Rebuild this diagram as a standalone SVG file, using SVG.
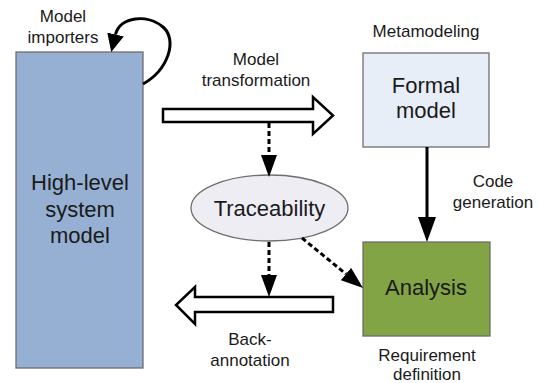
<svg xmlns="http://www.w3.org/2000/svg" width="541" height="383" viewBox="0 0 541 383">
  <defs>
    <style>
      .lbl { font-family: "Liberation Sans", Arial, sans-serif; font-size: 17px; fill: #1a1a1a; text-anchor: middle; }
      .big { font-family: "Liberation Sans", Arial, sans-serif; font-size: 22px; fill: #1a1a1a; text-anchor: middle; }
      .box { stroke: #6e6e6e; stroke-width: 1.3; }
      .block { fill: #ffffff; stroke: #000000; stroke-width: 2.5; stroke-linejoin: miter; }
      .dash { fill: none; stroke: #000000; stroke-width: 3; stroke-dasharray: 5 3; }
      .solid { fill: none; stroke: #000000; stroke-width: 3; }
    </style>
    <marker id="headDash" markerUnits="userSpaceOnUse" markerWidth="22" markerHeight="16" refX="0" refY="8" orient="auto">
      <path d="M0,0 L22,8 L0,16 Z" fill="#000"/>
    </marker>
    <marker id="headSolid" markerUnits="userSpaceOnUse" markerWidth="25" markerHeight="18" refX="0" refY="9" orient="auto">
      <path d="M0,0 L25,9 L0,18 Z" fill="#000"/>
    </marker>
    <marker id="headCurve" markerUnits="userSpaceOnUse" markerWidth="18" markerHeight="17" refX="0" refY="8.5" orient="auto">
      <path d="M0,0 L18,8.5 L0,17 Z" fill="#000"/>
    </marker>
  </defs>

  <rect width="541" height="383" fill="#ffffff"/>

  <!-- nodes -->
  <g id="high-level-model">
    <rect class="box" x="16" y="52" width="127" height="316" fill="#95B0D2"/>
    <text class="big" x="80" y="190">High-level</text>
    <text class="big" x="80" y="217">system</text>
    <text class="big" x="80" y="243">model</text>
  </g>

  <g id="formal-model">
    <rect class="box" x="363" y="53" width="126" height="94" fill="#E7EEF8"/>
    <text class="big" x="426" y="93">Formal</text>
    <text class="big" x="426" y="118">model</text>
  </g>

  <g id="traceability">
    <ellipse class="box" cx="269.5" cy="208" rx="78.5" ry="33" fill="#EEEDF4"/>
    <text class="big" x="269.5" y="216">Traceability</text>
  </g>

  <g id="analysis">
    <rect class="box" x="363" y="242" width="127" height="94" fill="#83A445"/>
    <text class="big" x="426" y="295">Analysis</text>
  </g>

  <!-- connectors -->
  <g id="connectors">
    <path class="solid" d="M143,84 C168,70 178,40 163,27 C148,14 120,16 115.5,34.5" stroke-width="2.5" marker-end="url(#headCurve)"/>
    <path class="block" d="M163,109 L313,109 L313,97 L333,115.5 L313,134 L313,122 L163,122 Z"/>
    <path class="block" d="M333,297 L195,297 L195,287 L176,305 L195,324 L195,312 L333,312 Z"/>
    <line class="dash" x1="269" y1="123" x2="269" y2="155" marker-end="url(#headDash)"/>
    <line class="dash" x1="269" y1="242" x2="269" y2="275" marker-end="url(#headDash)"/>
    <line class="dash" x1="302" y1="238" x2="346" y2="274" marker-end="url(#headDash)"/>
    <line class="solid" x1="427" y1="147" x2="427" y2="217" marker-end="url(#headSolid)"/>
  </g>

  <!-- free labels -->
  <g id="labels">
    <text class="lbl" x="63" y="22">Model</text>
    <text class="lbl" x="63" y="43">importers</text>
    <text class="lbl" x="256" y="65">Model</text>
    <text class="lbl" x="256" y="86">transformation</text>
    <text class="lbl" x="426" y="37">Metamodeling</text>
    <text class="lbl" x="493" y="187">Code</text>
    <text class="lbl" x="493" y="208">generation</text>
    <text class="lbl" x="250" y="345">Back-</text>
    <text class="lbl" x="250" y="366">annotation</text>
    <text class="lbl" x="427" y="361">Requirement</text>
    <text class="lbl" x="427" y="380">definition</text>
  </g>
</svg>
